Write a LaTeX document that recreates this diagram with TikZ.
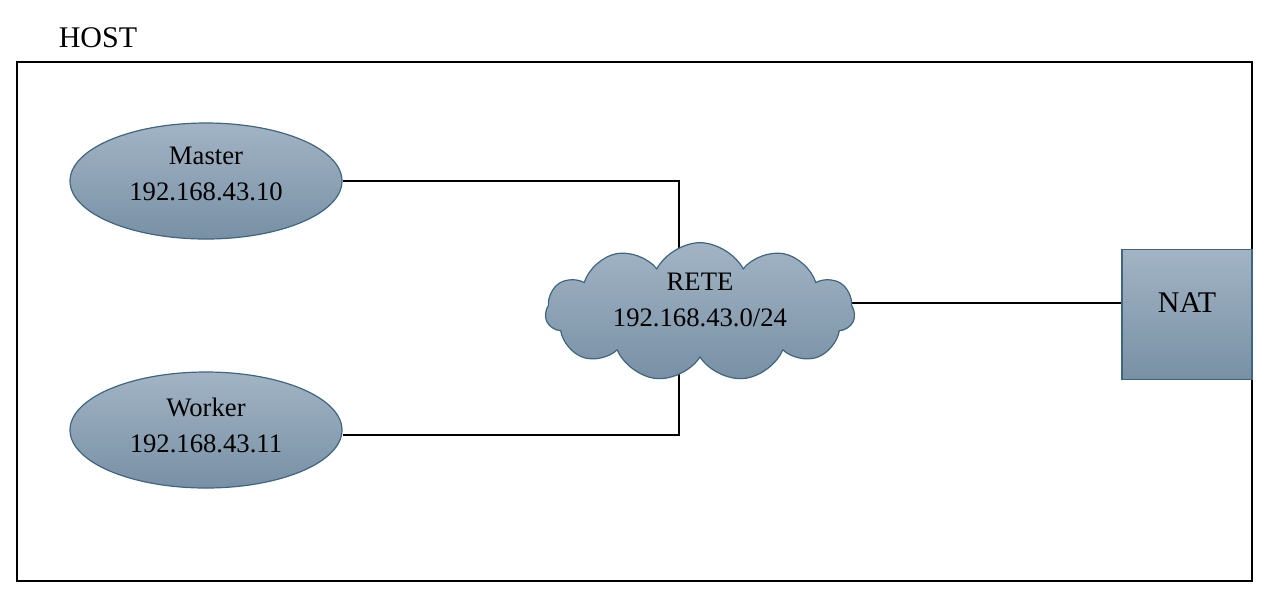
\documentclass[tikz,border=0pt]{standalone}
\usepackage{fontspec}
\setmainfont{Liberation Serif}
\usetikzlibrary{shapes.geometric,shapes.symbols,backgrounds}
\definecolor{shadetop}{RGB}{162,180,196}
\definecolor{shadebot}{RGB}{120,144,165}
\definecolor{edgeblue}{RGB}{62,102,130}
\tikzset{
    vmbox/.style={ellipse, draw=edgeblue, line width=0.9pt, top color=shadetop, bottom color=shadebot,
        minimum width=204pt, minimum height=87pt},
    netcloud/.style={cloud, cloud puffs=11, cloud puff arc=125, aspect=2.3, draw=edgeblue, line width=0.9pt,
        top color=shadetop, bottom color=shadebot, minimum width=232pt, minimum height=104pt, inner sep=0pt},
    natbox/.style={rectangle, draw=edgeblue, line width=0.9pt, top color=shadetop, bottom color=shadebot,
        minimum width=97.5pt, minimum height=98pt},
    captext/.style={align=center, font=\fontsize{20}{27}\selectfont},
    wire/.style={line width=1.2pt}
}
\begin{document}
\begin{tikzpicture}[x=0.75pt, y=-0.75pt]
    \useasboundingbox (0,0) rectangle (1280,608);
    \draw[wire] (17,62) rectangle (1252,581);
    \node[font=\fontsize{22.5}{27}\selectfont] (host) at (98,38) {HOST};

    \node[vmbox] (master) at (206,181) {};
    \node[captext] (mastertxt) at (206,174) {Master\\192.168.43.10};
    \node[vmbox] (worker) at (206,430) {};
    \node[captext] (workertxt) at (206,425) {Worker\\192.168.43.11};
    \node[netcloud] (rete) at (700,312) {};
    \node[captext] (retetxt) at (700,300) {RETE\\192.168.43.0/24};
    \node[natbox] (nat) at (1187,314.5) {};
    \node[captext, font=\fontsize{22.5}{27}\selectfont] (nattxt) at (1187,303) {NAT};

    % links under the cloud
    \coordinate (jtop) at (679,312);
    \begin{scope}[on background layer]
        \draw[wire] (master.east) -| (jtop);
        \draw[wire] ([yshift=-3.75pt]worker.east) -| (jtop);
        \draw[wire] (rete.center |- nattxt) -- (nat.west |- nattxt);
    \end{scope}
\end{tikzpicture}
\end{document}
